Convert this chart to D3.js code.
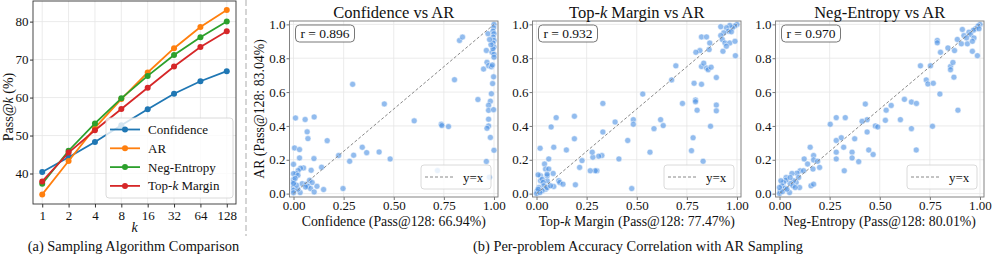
<!DOCTYPE html>
<html>
<head>
<meta charset="utf-8">
<script src="https://cdn.jsdelivr.net/npm/d3@7"></script>
<style>
  body { margin: 0; background: #fff; }
  svg text { font-family: "Liberation Serif", "DejaVu Serif", serif !important; }
</style>
</head>
<body>
<svg id="chart" width="996" height="263"></svg>
<script>
// ---- data ----
const kValues = [1, 2, 4, 8, 16, 32, 64, 128];
const passConfidence = [40.4, 44.3, 48.3, 52.7, 56.9, 61.0, 64.3, 66.94];
const passAR = [34.5, 43.3, 52.0, 59.6, 66.6, 73.0, 78.6, 83.04];
const passNegEntropy = [37.3, 46.0, 53.2, 59.8, 65.7, 71.2, 75.9, 80.01];
const passTopK = [37.9, 45.5, 51.4, 57.0, 62.6, 68.2, 73.3, 77.47];
const passTicks = [40, 50, 60, 70, 80];
const corrTicksX = [0, 0.25, 0.5, 0.75, 1.0];
const corrTicksY = [0, 0.2, 0.4, 0.6, 0.8, 1.0];

// per-problem accuracies (x = method, y = AR)
const confX = [0.295, 0.453, 0.010, 0.058, 0.103, 0.068, 0.072, 0.168, 0.005, 0.030, 0.030, 0.102, 0.000, 0.088, 0.140,
  0.050, 0.035, 0.023, 0.013, 0.000, 0.000, 0.000, 0.000, 0.000, 0.022, 0.043, 0.063, 0.080, 0.093, 0.072, 0.085, 0.060,
  0.117, 0.103, 0.150, 0.033, 0.022, 0.225, 0.247, 0.280, 0.300, 0.343, 0.365, 0.427, 0.482, 0.000, 0.008, 0.015, 0.000,
  0.602, 0.737, 0.740, 0.773, 0.803, 0.828, 0.843, 0.920, 0.962, 0.970, 0.948, 0.965, 0.973, 0.987, 0.990, 0.998, 0.993,
  0.987, 0.982, 0.973, 0.973, 0.998, 0.973, 0.973, 0.965, 0.982, 1.000, 0.962, 0.977, 0.718, 1.000, 0.998, 0.995, 1.000,
  0.996, 1.000, 0.995, 1.000, 0.995, 1.000, 1.000, 0.992, 0.985, 0.978];
const confY = [0.646, 0.530, 0.447, 0.438, 0.453, 0.365, 0.325, 0.313, 0.270, 0.260, 0.211, 0.207, 0.173, 0.138, 0.156,
  0.152, 0.150, 0.136, 0.118, 0.118, 0.083, 0.069, 0.039, 0.020, 0.108, 0.059, 0.055, 0.079, 0.065, 0.043, 0.030, 0.039,
  0.043, 0.010, 0.024, 0.006, 0.026, 0.225, 0.030, 0.191, 0.227, 0.274, 0.242, 0.246, 0.205, 0.005, 0.090, 0.050, 0.060,
  0.430, 0.410, 0.402, 0.396, 0.673, 0.905, 0.925, 0.556, 0.846, 0.945, 0.736, 0.776, 0.756, 0.750, 0.836, 0.690, 0.650,
  0.590, 0.546, 0.522, 0.492, 0.496, 0.440, 0.400, 0.386, 0.332, 0.256, 0.190, 0.097, 0.136, 1.000, 0.980, 0.960, 0.945,
  0.925, 0.905, 0.890, 0.866, 0.856, 0.823, 0.806, 0.760, 0.880, 0.910];

const topkX = [1.000, 0.988, 0.977, 0.964, 0.947, 0.957, 0.972, 0.934, 0.919, 0.919, 0.927, 0.940, 0.964, 0.947, 0.990,
  0.992, 0.930, 0.823, 0.848, 0.815, 0.795, 0.864, 0.861, 0.823, 0.848, 0.856, 0.834, 0.871, 0.695, 0.674, 0.786, 0.823,
  0.897, 0.530, 0.728, 0.793, 0.793, 0.801, 0.897, 0.897, 0.483, 0.619, 0.632, 0.586, 0.483, 0.868, 0.781, 0.773, 0.831,
  0.475, 0.566, 0.455, 0.411, 0.392, 0.331, 0.331, 0.326, 0.310, 0.301, 0.293, 0.268, 0.281, 0.278, 0.227, 0.215, 0.189,
  0.189, 0.194, 0.149, 0.098, 0.073, 0.086, 0.018, 0.040, 0.045, 0.061, 0.061, 0.083, 0.111, 0.116, 0.132, 0.086, 0.053,
  0.053, 0.053, 0.020, 0.008, 0.020, 0.028, 0.033, 0.036, 0.045, 0.053, 0.070, 0.028, 0.012, 0.003, 0.000, 0.017, 0.008];
const topkY = [1.000, 0.990, 0.980, 0.994, 0.980, 0.960, 0.956, 0.950, 0.986, 0.934, 0.910, 0.890, 0.890, 0.871, 0.900,
  0.815, 0.841, 0.926, 0.926, 0.845, 0.835, 0.890, 0.851, 0.751, 0.742, 0.732, 0.771, 0.747, 0.755, 0.672, 0.652, 0.646,
  0.686, 0.588, 0.533, 0.553, 0.543, 0.493, 0.523, 0.489, 0.437, 0.437, 0.402, 0.384, 0.410, 0.398, 0.330, 0.254, 0.191,
  0.030, 0.245, 0.314, 0.205, 0.423, 0.364, 0.533, 0.225, 0.221, 0.135, 0.135, 0.135, 0.215, 0.245, 0.195, 0.155, 0.457,
  0.324, 0.052, 0.258, 0.449, 0.394, 0.274, 0.268, 0.175, 0.145, 0.145, 0.205, 0.119, 0.076, 0.066, 0.056, 0.042, 0.076,
  0.105, 0.115, 0.105, 0.111, 0.076, 0.085, 0.066, 0.046, 0.026, 0.036, 0.046, 0.016, 0.036, 0.016, 0.000, 0.006, 0.026];

const negX = [1.000, 0.990, 0.978, 0.967, 0.995, 0.945, 0.953, 0.920, 0.933, 0.970, 0.912, 0.887, 0.907, 0.937, 0.962,
  0.962, 0.987, 0.787, 0.787, 0.840, 0.873, 0.803, 0.753, 0.703, 0.853, 0.865, 0.853, 0.870, 0.732, 0.740, 0.767, 0.800,
  0.623, 0.658, 0.683, 0.557, 0.532, 0.890, 0.428, 0.603, 0.658, 0.763, 0.528, 0.437, 0.412, 0.328, 0.283, 0.253, 0.478,
  0.490, 0.437, 0.375, 0.320, 0.308, 0.283, 0.362, 0.362, 0.283, 0.283, 0.395, 0.445, 0.467, 0.323, 0.682, 0.153, 0.170,
  0.170, 0.123, 0.190, 0.200, 0.167, 0.140, 0.157, 0.170, 0.103, 0.120, 0.087, 0.095, 0.083, 0.100, 0.062, 0.070, 0.053,
  0.033, 0.033, 0.053, 0.020, 0.007, 0.012, 0.028, 0.050, 0.003, 0.000, 0.015, 0.037, 0.067, 0.078, 0.000];
const negY = [1.000, 0.990, 0.974, 0.966, 0.974, 0.954, 0.940, 0.934, 0.920, 0.920, 0.970, 0.911, 0.885, 0.885, 0.900,
  0.841, 0.815, 0.905, 0.891, 0.861, 0.845, 0.835, 0.755, 0.755, 0.751, 0.775, 0.732, 0.688, 0.672, 0.648, 0.652, 0.588,
  0.557, 0.541, 0.533, 0.521, 0.493, 0.493, 0.529, 0.437, 0.384, 0.398, 0.433, 0.437, 0.427, 0.449, 0.449, 0.410, 0.400,
  0.394, 0.364, 0.324, 0.274, 0.330, 0.314, 0.245, 0.211, 0.245, 0.205, 0.189, 0.258, 0.231, 0.135, 0.258, 0.274, 0.225,
  0.199, 0.205, 0.191, 0.155, 0.145, 0.175, 0.046, 0.056, 0.135, 0.135, 0.121, 0.095, 0.066, 0.036, 0.119, 0.076, 0.060,
  0.095, 0.080, 0.095, 0.066, 0.076, 0.046, 0.032, 0.006, 0.016, 0.000, 0.012, 0.026, 0.046, 0.036, 0.036];

const panels = [
  { title: "Confidence", xs: confX, ys: confY, r: "0.896", pass: "66.94%", left: 289.5, right: 498 },
  { title: "Top-k Margin", xs: topkX, ys: topkY, r: "0.932", pass: "77.47%", left: 532.5, right: 741 },
  { title: "Neg-Entropy", xs: negX, ys: negY, r: "0.970", pass: "80.01%", left: 775.5, right: 984 }
];

const svg = d3.select("#chart");
const textColor = "#111";

// writes a label where "k" is set in italics
function labelWithK(sel, str) {
  const parts = str.split("k");
  parts.forEach((p, i) => {
    if (i > 0) sel.append("tspan").attr("font-style", "italic").text("k");
    if (p) sel.append("tspan").text(p);
  });
}

// ===== (a) Pass@k line chart =====
const ax = { left: 33, right: 236, top: 1, bottom: 204 };
const xK = d3.scaleLog().base(2).domain([Math.pow(2, -0.35), Math.pow(2, 7.35)]).range([ax.left, ax.right]);
const yP = d3.scaleLinear().domain([31.97, 85.43]).range([ax.bottom, ax.top]);

const gA = svg.append("g");

gA.append("g").selectAll("line").data(kValues).join("line")
  .attr("x1", d => xK(d)).attr("x2", d => xK(d))
  .attr("y1", ax.top).attr("y2", ax.bottom)
  .attr("stroke", "#e6e6e6").attr("stroke-width", 0.8);
gA.append("g").selectAll("line").data(passTicks).join("line")
  .attr("x1", ax.left).attr("x2", ax.right)
  .attr("y1", d => yP(d)).attr("y2", d => yP(d))
  .attr("stroke", "#e6e6e6").attr("stroke-width", 0.8);

const seriesA = [
  { name: "Confidence", values: passConfidence, color: "#1f77b4" },
  { name: "AR", values: passAR, color: "#ff7f0e" },
  { name: "Neg-Entropy", values: passNegEntropy, color: "#2ca02c" },
  { name: "Top-k Margin", values: passTopK, color: "#d62728" }
];

const line = d3.line().x((d, i) => xK(kValues[i])).y(d => yP(d));
seriesA.forEach(s => {
  gA.append("path").attr("d", line(s.values))
    .attr("fill", "none").attr("stroke", s.color).attr("stroke-width", 1.8);
  gA.append("g").selectAll("circle").data(s.values).join("circle")
    .attr("cx", (d, i) => xK(kValues[i])).attr("cy", d => yP(d))
    .attr("r", 3).attr("fill", s.color);
});

gA.append("rect")
  .attr("x", ax.left).attr("y", ax.top)
  .attr("width", ax.right - ax.left).attr("height", ax.bottom - ax.top)
  .attr("fill", "none").attr("stroke", "#333").attr("stroke-width", 0.9);

// axes
const xAxisA = gA.append("g").attr("transform", "translate(0," + ax.bottom + ")")
  .call(d3.axisBottom(xK).tickValues(kValues).tickFormat(d => d).tickSize(3.5).tickPadding(3));
const yAxisA = gA.append("g").attr("transform", "translate(" + ax.left + ",0)")
  .call(d3.axisLeft(yP).tickValues(passTicks).tickSize(3).tickPadding(1.5));
[xAxisA, yAxisA].forEach(g => {
  g.select(".domain").remove();
  g.selectAll("line").attr("stroke", "#333");
  g.selectAll("text").attr("font-size", "13px").attr("fill", textColor);
});

gA.append("text")
  .attr("transform", "translate(13,107) rotate(-90)")
  .attr("text-anchor", "middle").attr("font-size", "14px").attr("fill", textColor)
  .call(labelWithK, "Pass@k (%)");
gA.append("text")
  .attr("x", (ax.left + ax.right) / 2).attr("y", 232)
  .attr("text-anchor", "middle").attr("font-size", "14px").attr("font-style", "italic").attr("fill", textColor)
  .text("k");

// legend
const legA = gA.append("g").attr("transform", "translate(106,118)");
legA.append("rect").attr("width", 127).attr("height", 80).attr("rx", 3)
  .attr("fill", "#fff").attr("fill-opacity", 0.8).attr("stroke", "#d0d0d0").attr("stroke-width", 0.8);
seriesA.forEach((s, i) => {
  const yy = 11.5 + i * 18.8;
  legA.append("line").attr("x1", 4).attr("x2", 34).attr("y1", yy).attr("y2", yy)
    .attr("stroke", s.color).attr("stroke-width", 1.8);
  legA.append("circle").attr("cx", 19).attr("cy", yy).attr("r", 3).attr("fill", s.color);
  legA.append("text").attr("x", 42).attr("y", yy + 4.5)
    .attr("font-size", "13px").attr("fill", textColor)
    .call(labelWithK, s.name);
});

svg.append("text")
  .attr("x", 133.5).attr("y", 251)
  .attr("text-anchor", "middle").attr("font-size", "14.4px").attr("fill", textColor)
  .text("(a) Sampling Algorithm Comparison");

// dashed divider
svg.append("line")
  .attr("x1", 246).attr("x2", 246).attr("y1", 0).attr("y2", 236)
  .attr("stroke", "#c8c8c8").attr("stroke-width", 1.5).attr("stroke-dasharray", "6,3");

// ===== (b) scatter panels =====
const sTop = 21, sBottom = 197;
const yS = d3.scaleLinear().domain([-0.02, 1.02]).range([sBottom, sTop]);

panels.forEach((p, idx) => {
  const xS = d3.scaleLinear().domain([-0.02, 1.02]).range([p.left, p.right]);
  const g = svg.append("g");

  g.append("g").selectAll("line").data(corrTicksX).join("line")
    .attr("x1", d => xS(d)).attr("x2", d => xS(d)).attr("y1", sTop).attr("y2", sBottom)
    .attr("stroke", "#e6e6e6").attr("stroke-width", 0.8);
  g.append("g").selectAll("line").data(corrTicksY).join("line")
    .attr("x1", p.left).attr("x2", p.right).attr("y1", d => yS(d)).attr("y2", d => yS(d))
    .attr("stroke", "#e6e6e6").attr("stroke-width", 0.8);

  g.append("g").selectAll("circle").data(p.xs).join("circle")
    .attr("cx", d => xS(d)).attr("cy", (d, i) => yS(p.ys[i]))
    .attr("r", 3).attr("fill", "#4a90e2").attr("fill-opacity", 0.6)
    .attr("stroke", "#fff").attr("stroke-width", 0.5);

  g.append("line")
    .attr("x1", xS(0)).attr("y1", yS(0)).attr("x2", xS(1)).attr("y2", yS(1))
    .attr("stroke", "#888").attr("stroke-width", 1).attr("stroke-dasharray", "3,2");

  g.append("rect")
    .attr("x", p.left).attr("y", sTop).attr("width", p.right - p.left).attr("height", sBottom - sTop)
    .attr("fill", "none").attr("stroke", "#777").attr("stroke-width", 0.9);

  const xa = g.append("g").attr("transform", "translate(0," + sBottom + ")")
    .call(d3.axisBottom(xS).tickValues(corrTicksX).tickFormat(d3.format(".2f")).tickSize(3).tickPadding(1));
  const ya = g.append("g").attr("transform", "translate(" + p.left + ",0)")
    .call(d3.axisLeft(yS).tickValues(corrTicksY).tickFormat(d3.format(".1f")).tickSize(3).tickPadding(1));
  [xa, ya].forEach(a => {
    a.select(".domain").remove();
    a.selectAll("line").attr("stroke", "#777");
    a.selectAll("text").attr("font-size", "13px").attr("fill", textColor);
  });

  const cx = (p.left + p.right) / 2;
  g.append("text").attr("x", cx).attr("y", 18)
    .attr("text-anchor", "middle").attr("font-size", "16.5px").attr("fill", textColor)
    .call(labelWithK, p.title + " vs AR");
  g.append("text").attr("x", cx).attr("y", 226)
    .attr("text-anchor", "middle").attr("font-size", "13.8px").attr("fill", textColor)
    .call(labelWithK, p.title + " (Pass@128: " + p.pass + ")");
  if (idx === 0) {
    g.append("text")
      .attr("transform", "translate(264," + (sTop + sBottom) / 2 + ") rotate(-90)")
      .attr("text-anchor", "middle").attr("font-size", "13.8px").attr("fill", textColor)
      .text("AR (Pass@128: 83.04%)");
  }

  // r box
  const rb = g.append("g").attr("transform", "translate(" + (p.left + 6) + "," + (sTop + 4) + ")");
  rb.append("rect").attr("width", 59).attr("height", 17).attr("rx", 4)
    .attr("fill", "#fff").attr("fill-opacity", 0.85).attr("stroke", "#555").attr("stroke-width", 0.8);
  rb.append("text").attr("x", 29.5).attr("y", 13)
    .attr("text-anchor", "middle").attr("font-size", "13.5px").attr("fill", textColor)
    .text("r = " + p.r);

  // y=x legend
  const lg = g.append("g").attr("transform", "translate(" + (p.right - 77) + "," + (sBottom - 32) + ")");
  lg.append("rect").attr("width", 70).attr("height", 24).attr("rx", 3)
    .attr("fill", "#fff").attr("fill-opacity", 0.8).attr("stroke", "#d0d0d0").attr("stroke-width", 0.8);
  lg.append("line").attr("x1", 4).attr("x2", 32).attr("y1", 12).attr("y2", 12)
    .attr("stroke", "#888").attr("stroke-width", 1).attr("stroke-dasharray", "3,2");
  lg.append("text").attr("x", 42).attr("y", 16.5)
    .attr("font-size", "13px").attr("fill", textColor).text("y=x");
});

svg.append("text")
  .attr("x", 638).attr("y", 251)
  .attr("text-anchor", "middle").attr("font-size", "14.4px").attr("fill", textColor)
  .text("(b) Per-problem Accuracy Correlation with AR Sampling");
</script>
</body>
</html>
